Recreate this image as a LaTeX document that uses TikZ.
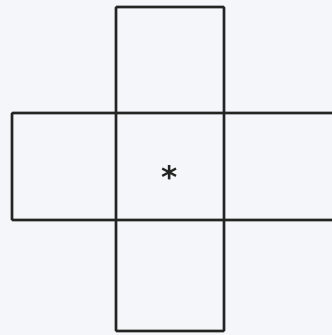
\documentclass[tikz,border=0pt]{standalone}
\usepackage{fontspec}
\newfontfamily\starfont{DejaVu Sans}
\definecolor{paper}{HTML}{F4F6FA}
\definecolor{ink}{HTML}{222522}
\begin{document}
\begin{tikzpicture}[x=1pt,y=-1pt,
  edge/.style={draw=ink,line width=2.6pt,rounded corners=1pt},
  mark text/.style={text=ink,inner sep=0pt,font=\starfont\bfseries\fontsize{31}{31}\selectfont}]
\fill[paper] (0,0) rectangle (332,335);
\useasboundingbox (0,0) rectangle (332,335);
\begin{scope}
\clip (0,0) rectangle (332,335);
\path[edge] (12,113) rectangle (340,220);
\path[edge] (116,7) rectangle (224,331);
\end{scope}
\node[mark text,anchor=north] (star) at (170,165) {*};
\end{tikzpicture}
\end{document}
